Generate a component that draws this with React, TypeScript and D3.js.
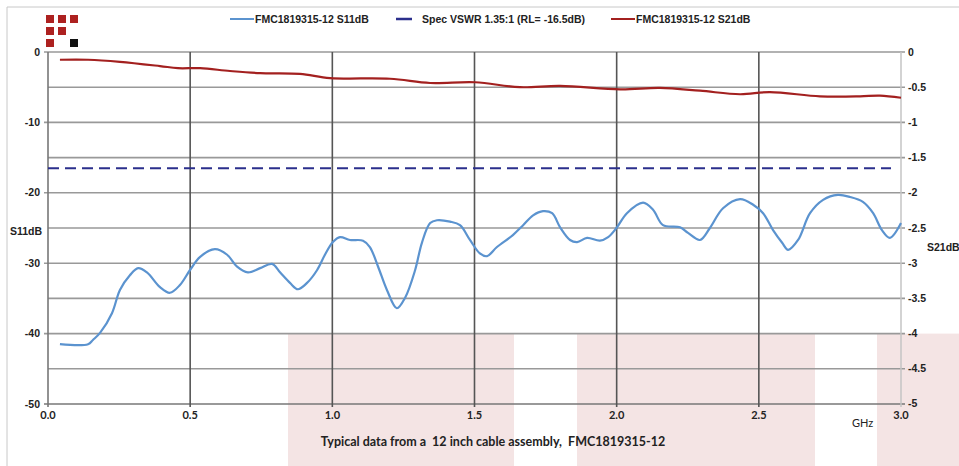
import * as d3 from 'd3';

// frequency (GHz) / S11 (dB)
const s11Freq = [0.042, 0.141, 0.158, 0.183, 0.225, 0.253, 0.288, 0.317, 0.348, 0.394, 0.429, 0.464, 0.499, 0.535, 0.587, 0.63, 0.665, 0.703, 0.746, 0.788, 0.816, 0.851, 0.879, 0.911, 0.946, 0.974, 1.002, 1.027, 1.062, 1.108, 1.132, 1.161, 1.192, 1.227, 1.256, 1.291, 1.315, 1.344, 1.368, 1.414, 1.449, 1.484, 1.519, 1.544, 1.579, 1.635, 1.671, 1.706, 1.741, 1.773, 1.801, 1.836, 1.861, 1.896, 1.941, 1.97, 2.001, 2.036, 2.093, 2.128, 2.163, 2.223, 2.251, 2.293, 2.328, 2.374, 2.434, 2.48, 2.515, 2.55, 2.582, 2.603, 2.638, 2.68, 2.726, 2.778, 2.821, 2.866, 2.902, 2.933, 2.961, 3.0];
const s11Vals = [-41.5, -41.5, -40.9, -39.9, -37.1, -33.8, -31.7, -30.7, -31.3, -33.4, -34.2, -33.1, -31.0, -29.1, -28.0, -28.8, -30.5, -31.3, -30.7, -30.1, -31.3, -32.8, -33.7, -32.8, -31.0, -28.8, -27.0, -26.3, -26.7, -26.8, -27.7, -30.5, -33.8, -36.4, -34.9, -31.0, -27.1, -24.3, -23.9, -24.1, -24.6, -26.7, -28.6, -29.0, -27.7, -26.0, -24.6, -23.2, -22.6, -22.9, -24.9, -26.7, -27.0, -26.4, -26.8, -26.3, -24.9, -22.9, -21.4, -22.4, -24.6, -24.9, -25.7, -26.7, -25.0, -22.2, -20.9, -21.7, -22.9, -25.3, -27.1, -28.1, -26.7, -22.9, -21.0, -20.3, -20.6, -21.3, -22.9, -25.3, -26.4, -24.3];

// frequency (GHz) / S21 (dB)
const s21Freq = [0.042, 0.141, 0.253, 0.394, 0.457, 0.535, 0.64, 0.746, 0.886, 0.992, 1.203, 1.344, 1.502, 1.66, 1.801, 2.012, 2.152, 2.293, 2.434, 2.539, 2.715, 2.856, 2.926, 3.0];
const s21Vals = [-0.11, -0.11, -0.14, -0.2, -0.23, -0.23, -0.27, -0.3, -0.31, -0.37, -0.38, -0.44, -0.43, -0.5, -0.48, -0.53, -0.51, -0.55, -0.6, -0.57, -0.63, -0.63, -0.62, -0.65];

const specRL = -16.5;

const xTicks = [0, 0.5, 1.0, 1.5, 2.0, 2.5, 3.0];
const leftTicks = [0, -10, -20, -30, -40, -50];
const leftGrid = [0, -5, -10, -15, -20, -25, -30, -35, -40, -45, -50];
const rightTicks = [0, -0.5, -1, -1.5, -2, -2.5, -3, -3.5, -4, -4.5, -5];

const legendLabels = ['FMC1819315-12 S11dB', 'Spec VSWR 1.35:1 (RL= -16.5dB)', 'FMC1819315-12 S21dB'];

// pink bands behind the bottom of the chart (pixel ranges of the original artwork)
const bands: [number, number][] = [[288, 514], [577, 815], [877, 959]];

const W = 959;
const H = 466;
const plot = { left: 48, right: 901, top: 52, bottom: 404 };

const S11_COLOR = '#5b93cf';
const S21_COLOR = '#a3201f';
const SPEC_COLOR = '#2b2f8c';
const LOGO_RED = '#ad2120';
const axisFont = '"Liberation Sans", Arial, sans-serif';
const softFont = 'Lato, "Open Sans", sans-serif';

export default function App() {
  const x = d3.scaleLinear().domain([0, 3]).range([plot.left, plot.right]);
  const yL = d3.scaleLinear().domain([-50, 0]).range([plot.bottom, plot.top]);
  const yR = d3.scaleLinear().domain([-5, 0]).range([plot.bottom, plot.top]);

  const s11 = s11Freq.map((f, i) => [f, s11Vals[i]] as [number, number]);
  const s21 = s21Freq.map((f, i) => [f, s21Vals[i]] as [number, number]);

  const lineL = d3
    .line<[number, number]>()
    .x((d) => x(d[0]))
    .y((d) => yL(d[1]))
    .curve(d3.curveCatmullRom.alpha(0.5));
  const lineR = d3
    .line<[number, number]>()
    .x((d) => x(d[0]))
    .y((d) => yR(d[1]))
    .curve(d3.curveCatmullRom.alpha(0.5));

  const logoCells: [number, number, string][] = [
    [0, 0, LOGO_RED], [1, 0, LOGO_RED], [2, 0, LOGO_RED],
    [0, 1, LOGO_RED], [1, 1, LOGO_RED],
    [0, 2, LOGO_RED], [2, 2, '#111'],
  ];

  return (
    <svg
      width={W}
      height={H}
      style={{ position: 'absolute', left: 0, top: 0, background: '#fff' }}
    >
      {/* frame */}
      <line x1={7} y1={7} x2={W} y2={7} stroke="#c8c8c8" />
      <line x1={7} y1={7} x2={7} y2={H} stroke="#c8c8c8" />

      {bands.map(([a, b], i) => (
        <rect key={i} x={a} y={yL(-40)} width={b - a} height={H - yL(-40)} fill="#f4e4e4" />
      ))}

      {/* horizontal grid */}
      {leftGrid.map((v) => (
        <line
          key={v}
          x1={v % 10 === 0 ? plot.left - 4 : plot.left}
          x2={plot.right + 4}
          y1={yL(v)}
          y2={yL(v)}
          stroke={v === -50 ? '#777' : '#999'}
          strokeWidth={1.6}
        />
      ))}
      {/* vertical grid */}
      {xTicks.map((t) => (
        <line
          key={t}
          x1={x(t)}
          x2={x(t)}
          y1={plot.top}
          y2={plot.bottom + 3}
          stroke={t === 3 ? '#c4c4c4' : t === 0 ? '#777' : '#555'}
          strokeWidth={t === 3 ? 1.5 : 1.6}
        />
      ))}

      {/* left axis labels */}
      {leftTicks.map((v) => (
        <text
          key={v}
          x={40}
          y={yL(v)}
          dy="0.35em"
          textAnchor="end"
          fontFamily={axisFont}
          fontWeight="bold"
          fontSize={10.5}
          fill="#222"
        >
          {v}
        </text>
      ))}
      {/* right axis labels */}
      {rightTicks.map((v) => (
        <text
          key={v}
          x={908}
          y={yR(v) - (v === -5 ? 1 : 0)}
          dy="0.35em"
          fontFamily={axisFont}
          fontWeight="bold"
          fontSize={10.5}
          fill="#222"
        >
          {v}
        </text>
      ))}
      {/* x labels */}
      {xTicks.map((t) => (
        <text
          key={t}
          x={x(t)}
          y={419}
          textAnchor="middle"
          fontFamily={softFont}
          fontWeight="bold"
          fontSize={11}
          fill="#222"
        >
          {t.toFixed(1)}
        </text>
      ))}

      <text x={10} y={235} fontFamily={axisFont} fontWeight="bold" fontSize={10.5} fill="#222">
        S11dB
      </text>
      <text x={927} y={251} fontFamily={axisFont} fontWeight="bold" fontSize={10.5} fill="#222">
        S21dB
      </text>
      <text x={852} y={427} fontFamily={softFont} fontSize={11} fill="#222">
        GHz
      </text>
      <text
        x={493}
        y={446}
        textAnchor="middle"
        fontFamily={softFont}
        fontWeight="bold"
        fontSize={12.5}
        fill="#222"
        style={{ whiteSpace: 'pre' }}
      >
        {'Typical data from a  12 inch cable assembly,  FMC1819315-12'}
      </text>

      {/* spec line */}
      <line
        x1={plot.left}
        x2={plot.right - 10}
        y1={yL(specRL)}
        y2={yL(specRL)}
        stroke={SPEC_COLOR}
        strokeWidth={2}
        strokeDasharray="11 6"
      />

      <path d={lineR(s21) ?? ''} fill="none" stroke={S21_COLOR} strokeWidth={2.2} />
      <path d={lineL(s11) ?? ''} fill="none" stroke={S11_COLOR} strokeWidth={2.2} />

      {/* legend */}
      <line x1={230} x2={254} y1={19} y2={19} stroke={S11_COLOR} strokeWidth={2} />
      <text x={255} y={23} fontFamily={axisFont} fontWeight="bold" fontSize={10.5} fill="#222">
        {legendLabels[0]}
      </text>
      <line x1={396} x2={412} y1={19} y2={19} stroke={SPEC_COLOR} strokeWidth={2.5} />
      <text x={422} y={23} fontFamily={axisFont} fontWeight="bold" fontSize={10.5} fill="#222">
        {legendLabels[1]}
      </text>
      <line x1={611} x2={635} y1={19} y2={19} stroke={S21_COLOR} strokeWidth={2} />
      <text x={636} y={23} fontFamily={axisFont} fontWeight="bold" fontSize={10.5} fill="#222">
        {legendLabels[2]}
      </text>

      {/* logo */}
      {logoCells.map(([c, r, col], i) => (
        <rect key={i} x={46 + c * 12} y={15 + r * 12} width={8} height={8} fill={col} />
      ))}
    </svg>
  );
}
